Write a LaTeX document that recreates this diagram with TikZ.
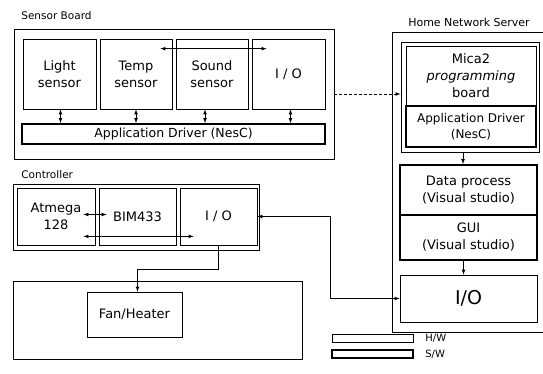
\documentclass[tikz,border=0pt]{standalone}
\usepackage{fontspec}
\setmainfont{DejaVu Sans}
\usetikzlibrary{arrows}

\begin{document}
\begin{tikzpicture}[x=1pt, y=-1pt, >=latex, line width=0.75pt,
		every node/.style={font=\fontsize{13}{17}\selectfont, align=center, inner sep=0pt},
		hw/.style={draw, line width=0.75pt},
		sw/.style={draw, line width=1.8pt},
		title/.style={font=\fontsize{10.5}{12}\selectfont, anchor=west}]
					\useasboundingbox (0,0) rectangle (543,373);
					\clip (0,0) rectangle (543,373);
					% sensor board
					\node (sbtitle) [title] at (21,16) {Sensor Board};
					\node (sensorboard) [hw, minimum width=320, minimum height=130] at (174,94) {};
					\node (light) [hw, minimum width=73, minimum height=70] at (59.5,74) {Light\\sensor};
					\node (temp) [hw, minimum width=72, minimum height=70] at (136,74) {Temp\\sensor};
					\node (sound) [hw, minimum width=72, minimum height=70] at (212,74) {Sound\\sensor};
					\node (sio) [hw, minimum width=73, minimum height=70] at (288.5,74) {I / O};
					\node (sdriver) [sw, minimum width=303, minimum height=20, font=\fontsize{12.5}{14}\selectfont] at (173.5,134) {Application Driver (NesC)};
					\foreach \b/\s in {light/1,temp/0,sound/-7,sio/2}
					\draw [<->] ([xshift=\s pt]\b.south) -- ([xshift=\s pt]\b.south |- sdriver.north);
					\draw [<->] ([xshift=-12pt,yshift=-10pt]temp.north east) -- ([xshift=15pt,yshift=-10pt]sio.north west);
					% home network server
					\node (hnstitle) [title, anchor=center, font=\fontsize{11}{13}\selectfont] at (469,22) {Home Network Server};
					\node (hns) [hw, minimum width=156, minimum height=300] at (470,182) {};
					\node (micagroup) [hw, minimum width=138, minimum height=110] at (470,97) {};
					\node (mica) [hw, minimum width=130, minimum height=60] at (471,76) {Mica2\\\textit{programming}\\board};
					\node (mdriver) [sw, minimum width=130, minimum height=41, font=\fontsize{12}{16}\selectfont] at (471,126.5) {Application Driver\\(NesC)};
					\node (dataproc) [sw, minimum width=137, minimum height=50] at (468.5,190) {Data process\\(Visual studio)};
					\node (gui) [sw, minimum width=137, minimum height=45] at (468.5,237.5) {GUI\\(Visual studio)};
					\node (hio) [hw, minimum width=137, minimum height=47, font=\fontsize{19}{22}\selectfont] at (468.5,298.5) {I/O};
					\draw [->, dash pattern=on 3pt off 2pt] (sensorboard.east) -- (sensorboard.east -| micagroup.west);
					\draw [->] ([xshift=-7pt]micagroup.south) -- ([xshift=-7pt]micagroup.south |- dataproc.north);
					\draw [->] ([xshift=-5pt]gui.south) -- ([xshift=-5pt]gui.south |- hio.north);
					% controller
					\node (ctitle) [title] at (21,175) {Controller};
					\node (controller) [hw, minimum width=246, minimum height=66] at (136,217) {};
					\node (atmega) [hw, minimum width=78, minimum height=57] at (56,216.5) {Atmega\\128};
					\node (bim) [hw, minimum width=77, minimum height=57] at (137.5,216.5) {BIM433};
					\node (cio) [hw, minimum width=77, minimum height=57] at (218.5,216.5) {I / O};
					\draw [<->] ([xshift=-12pt,yshift=2pt]atmega.east) -- ([xshift=8pt,yshift=2pt]bim.west);
					\draw [<->] ([xshift=-12pt,yshift=9pt]atmega.south east) -- ([xshift=14pt,yshift=9pt]cio.south west);
					\coordinate (netbend) at (330,0);
					\draw [<->] (cio.east) -| (netbend |- hio.west) -- (hio.west);
					% actuator
					\node (actuator) [hw, minimum width=289, minimum height=78] at (157.5,320) {};
					\node (fan) [hw, minimum width=95, minimum height=45] at (134.5,314.5) {Fan/Heater};
					\coordinate (fanbend) at (0,269);
					\draw [->] (cio.south) -- (cio.south |- fanbend) -| ([xshift=3pt]fan.north);
					% legend
					\node (hwkey) [hw, minimum width=81, minimum height=8] at (372.5,338) {};
					\node (swkey) [sw, minimum width=81, minimum height=8] at (372.5,354) {};
					\node (hwtext) [title, font=\fontsize{10}{12}\selectfont] at (425,338) {H/W};
					\node (swtext) [title, font=\fontsize{10}{12}\selectfont] at (425,354) {S/W};
				\end{tikzpicture}
\end{document}
